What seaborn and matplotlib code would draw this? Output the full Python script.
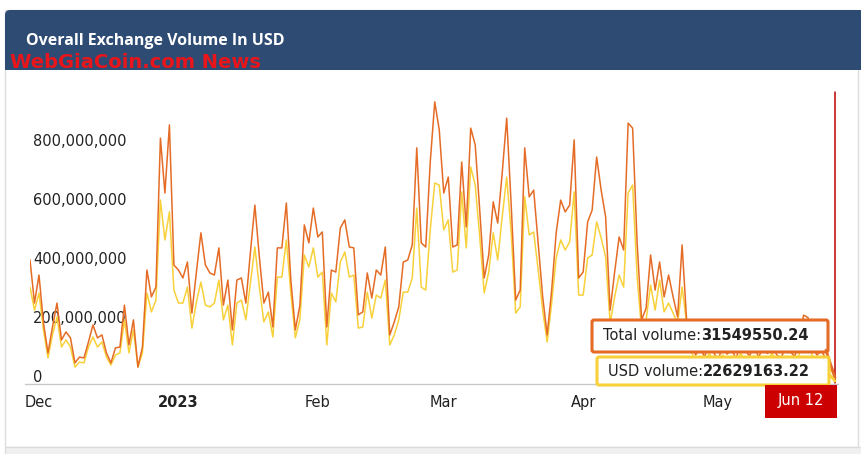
import numpy as np
import pandas as pd
import matplotlib
matplotlib.use("Agg")
import matplotlib.pyplot as plt
import seaborn as sns
from matplotlib.patches import Rectangle, FancyBboxPatch
from matplotlib.transforms import Affine2D, IdentityTransform, ScaledTranslation

# === Data (values in millions of USD, one point per day) ===
START_DATE = "2022-11-29"
TITLE = "Overall Exchange Volume In USD"
WATERMARK = "WebGiaCoin.com News"
LAST_LABEL = "Jun 12"

total_m = [
    417, 271, 366, 203, 102, 190, 271, 146, 173, 153,
    68, 88, 85, 139, 197, 153, 163, 102, 68, 119,
    122, 264, 129, 214, 54, 122, 383, 292, 325, 830,
    644, 875, 400, 383, 356, 410, 237, 376, 509, 400,
    373, 366, 458, 264, 349, 180, 349, 356, 271, 441,
    603, 427, 271, 308, 190, 458, 458, 610, 349, 180,
    262, 536, 475, 593, 495, 512, 190, 383, 376, 525,
    553, 461, 458, 231, 241, 373, 288, 383, 366, 461,
    163, 207, 258, 410, 417, 468, 797, 475, 461, 749,
    953, 858, 644, 698, 461, 468, 749, 529, 864, 807,
    586, 356, 434, 614, 542, 712, 898, 603, 281, 315,
    797, 631, 654, 475, 292, 163, 315, 509, 620, 580,
    603, 824, 356, 376, 546, 586, 766, 654, 563, 247,
    376, 495, 451, 881, 864, 475, 214, 254, 434, 315,
    410, 292, 366, 292, 224, 468, 214,
    150, 95, 120, 88, 140, 105, 75, 128, 98, 115,
    82, 135, 110, 92, 125, 88, 118, 100, 140, 96,
    85, 122, 108, 90, 130, 230, 222, 120, 95, 110,
    80, 62, 31.54955024,
]
usd_m = [
    325, 247, 305, 180, 85, 163, 224, 122, 146, 122,
    54, 71, 68, 122, 156, 122, 139, 88, 61, 95,
    102, 214, 102, 180, 54, 102, 305, 241, 281, 620,
    485, 580, 315, 271, 271, 325, 186, 275, 342, 264,
    258, 271, 349, 214, 264, 129, 271, 281, 214, 339,
    461, 325, 207, 241, 156, 359, 359, 485, 305, 153,
    214, 434, 393, 458, 359, 376, 129, 305, 275, 410,
    444, 359, 366, 186, 190, 308, 220, 298, 288, 349,
    129, 163, 214, 308, 308, 356, 593, 325, 315, 519,
    678, 671, 519, 553, 376, 383, 648, 458, 732, 671,
    495, 305, 376, 509, 417, 563, 698, 509, 237, 258,
    631, 502, 512, 383, 247, 139, 271, 424, 485, 451,
    478, 648, 298, 298, 424, 434, 546, 492, 427, 203,
    292, 366, 325, 644, 671, 359, 180, 214, 332, 247,
    349, 241, 271, 237, 203, 325, 203,
    110, 70, 90, 65, 100, 78, 55, 95, 72, 85,
    60, 100, 80, 68, 92, 65, 86, 74, 102, 70,
    62, 90, 80, 66, 95, 160, 155, 88, 70, 80,
    58, 45, 22.62916322,
]
y_ticks = [0, 200e6, 400e6, 600e6, 800e6]
tick_dates = ["2022-12-01", "2023-01-01", "2023-02-01", "2023-03-01", "2023-04-01", "2023-05-01"]
tick_labels = ["Dec", "2023", "Feb", "Mar", "Apr", "May"]

TOTAL_COLOR = "#e56c26"
USD_COLOR = "#f8d13a"

# === Figure setup (pixel helpers, top-left origin) ===
W, H, DPI = 861, 454, 100
sns.set_style("white")
plt.rcParams["font.family"] = ["DejaVu Sans"]

fig = plt.figure(figsize=(W / DPI, H / DPI), dpi=DPI)
PX = Affine2D().scale(1, -1).translate(0, H)

# card, header, bottom band
fig.add_artist(Rectangle((5, 10), 853, 437, transform=PX, facecolor="white",
                         edgecolor="#dddddd", lw=1, zorder=-5))
fig.add_artist(FancyBboxPatch((5, 10), 860, 60, boxstyle="round,pad=0,rounding_size=5",
                              transform=PX, facecolor="#2e4b74", edgecolor="none", zorder=-4))
fig.add_artist(Rectangle((5, 50), 860, 20, transform=PX, facecolor="#2e4b74",
                         edgecolor="none", zorder=-4))
fig.add_artist(Rectangle((5, 447), 860, 8, transform=PX, facecolor="#f0f0f0",
                         edgecolor="#dddddd", lw=1, zorder=-4))
fig.text(26, 41, TITLE, transform=PX, color="white", fontsize=11.5, fontweight="bold",
         family="Open Sans", va="center", ha="left")
fig.text(10, 62, WATERMARK, transform=PX, color="#e8151b", fontsize=14, fontweight="bold",
         va="center", ha="left")

# === Chart ===
dates = pd.date_range(START_DATE, periods=len(total_m), freq="D")
df = pd.DataFrame({
    "date": np.concatenate([dates, dates]),
    "volume": np.concatenate([np.array(usd_m), np.array(total_m)]) * 1e6,
    "series": ["USD volume"] * len(usd_m) + ["Total volume"] * len(total_m),
})

ax_left, ax_right, ax_top, ax_bottom = 30, 835, 92, 383
ax = fig.add_axes([ax_left / W, 1 - ax_bottom / H, (ax_right - ax_left) / W, (ax_bottom - ax_top) / H])
ax.patch.set_visible(False)
sns.lineplot(data=df, x="date", y="volume", hue="series",
             hue_order=["USD volume", "Total volume"],
             palette={"USD volume": USD_COLOR, "Total volume": TOTAL_COLOR},
             linewidth=1.1, legend=False, ax=ax)

ax.set_xlim(dates[0], dates[-1])
ax.set_ylim(0, 986.4e6)
for s in ax.spines.values():
    s.set_visible(False)
ax.set_xlabel("")
ax.set_ylabel("")

ax.set_xticks(pd.to_datetime(tick_dates))
ax.set_xticklabels(tick_labels)
ax.tick_params(axis="x", length=0, pad=8.5, labelsize=10.5, labelcolor="#222222")
ax.get_xticklabels()[1].set_fontweight("bold")

ax.set_yticks(y_ticks)
ax.set_yticklabels([f"{v:,.0f}" for v in y_ticks])
ax.tick_params(axis="y", length=0, pad=-2.2, labelsize=10.5, labelcolor="#222222")
for lab in ax.get_yticklabels():
    lab.set_horizontalalignment("left")
    lab.set_transform(lab.get_transform() + ScaledTranslation(0, 7 / DPI, fig.dpi_scale_trans))

# crosshair at the last point
ax.axvline(dates[-1], color="#c00000", lw=1.1, zorder=4, clip_on=False)

# bottom axis line
fig.add_artist(plt.Line2D([25, 838], [384, 384], transform=PX, color="#c8c8c8", lw=1, zorder=3))

# === Tooltips ===
fig.add_artist(FancyBboxPatch((592, 320), 236, 32, boxstyle="round,pad=0,rounding_size=2",
                              transform=PX, facecolor="white", edgecolor=TOTAL_COLOR, lw=2.2, zorder=5))
fig.add_artist(plt.Line2D([826, 835], [350, 378], transform=PX, color=TOTAL_COLOR, lw=2, zorder=5))
fig.add_artist(FancyBboxPatch((597, 357), 232, 28, boxstyle="round,pad=0,rounding_size=2",
                              transform=PX, facecolor="white", edgecolor=USD_COLOR, lw=2.2, zorder=5))
fig.add_artist(plt.Line2D([829, 835], [374, 381], transform=PX, color=USD_COLOR, lw=2, zorder=5))

renderer = fig.canvas.get_renderer()


def tooltip(x, y, label, value):
    t = fig.text(x, y, label, transform=PX, fontsize=10.5, color="#222222",
                 va="center", ha="left", zorder=6)
    bb = t.get_window_extent(renderer)
    fig.text(bb.x1, H - y, value, transform=IdentityTransform(), fontsize=10.5,
             fontweight="bold", color="#222222", va="center", ha="left", zorder=6)


tooltip(603, 335, "Total volume:", f"{total_m[-1] * 1e6:.2f}")
tooltip(608, 371, "USD volume:", f"{usd_m[-1] * 1e6:.2f}")

# last date label
fig.add_artist(Rectangle((765, 385), 72, 33, transform=PX, facecolor="#cc0000",
                         edgecolor="none", zorder=6))
fig.text(801, 401, LAST_LABEL, transform=PX, color="white", fontsize=10.5,
         ha="center", va="center", zorder=7)

fig.savefig("out.png", dpi=DPI)
